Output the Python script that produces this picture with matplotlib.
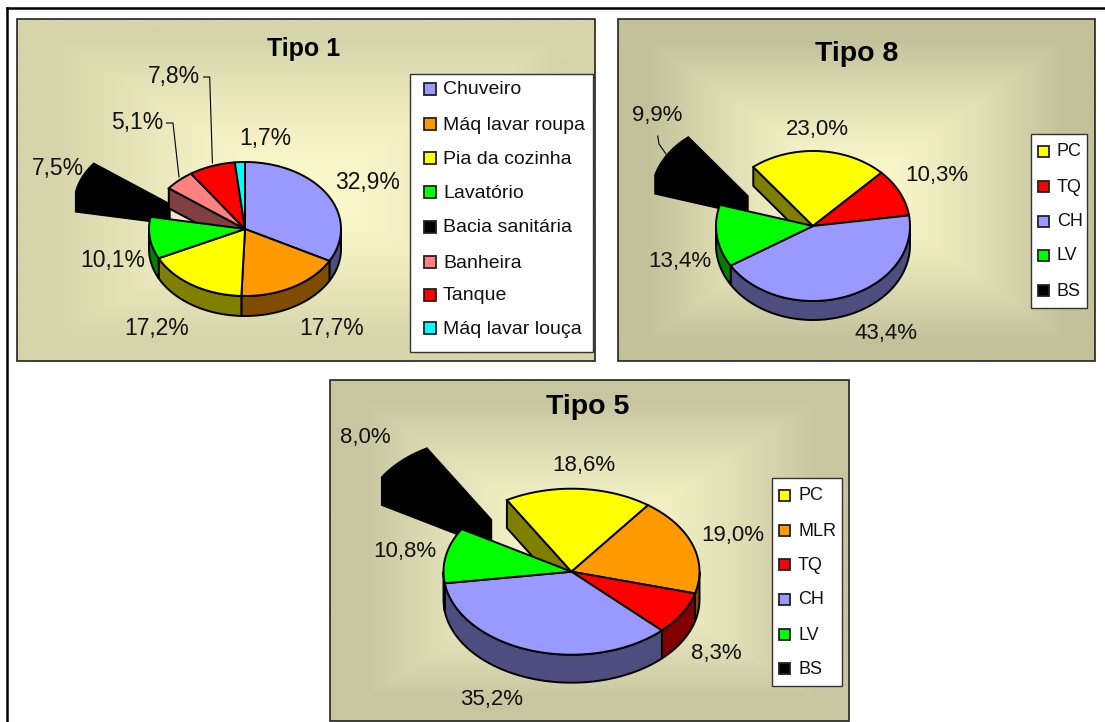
"""
    Three exploded 3D style pies, water use per type of home
"""
import numpy as np
import matplotlib
matplotlib.use("Agg")
import matplotlib.pyplot as plt
from matplotlib.patches import Polygon, Rectangle

plt.rcParams["font.family"] = ["Liberation Sans", "DejaVu Sans"]

### data
tipo1_names = ["Chuveiro", "Máq lavar roupa", "Pia da cozinha", "Lavatório",
               "Bacia sanitária", "Banheira", "Tanque", "Máq lavar louça"]
tipo1_values = [32.9, 17.7, 17.2, 10.1, 7.5, 5.1, 7.8, 1.7]

tipo8_names = ["PC", "TQ", "CH", "LV", "BS"]
tipo8_values = [23.0, 10.3, 43.4, 13.4, 9.9]

tipo5_names = ["PC", "MLR", "TQ", "CH", "LV", "BS"]
tipo5_values = [18.6, 19.0, 8.3, 35.2, 10.8, 8.0]

### (top colour, wall colour) for each fixture
COLORS = {
    "Chuveiro": ("#9999FF", "#4D4D80"), "CH": ("#9999FF", "#4D4D80"),
    "Máq lavar roupa": ("#FF9900", "#804D00"), "MLR": ("#FF9900", "#804D00"),
    "Pia da cozinha": ("#FFFF00", "#808000"), "PC": ("#FFFF00", "#808000"),
    "Lavatório": ("#00FF00", "#008000"), "LV": ("#00FF00", "#008000"),
    "Bacia sanitária": ("#000000", "#000000"), "BS": ("#000000", "#000000"),
    "Banheira": ("#FF8080", "#804040"),
    "Tanque": ("#FF0000", "#800000"), "TQ": ("#FF0000", "#800000"),
    "Máq lavar louça": ("#00FFFF", "#008080"),
}
EXPLODED = ("Bacia sanitária", "BS")


def rim(cx, cy, rx, ry, a0, a1, drop=0):
    # angles are degrees clockwise from 12 o'clock, y axis points down
    n = max(int(abs(a1 - a0) / 2), 2)
    ang = np.radians(np.linspace(a0, a1, n))
    return np.column_stack([cx + rx * np.sin(ang), cy - ry * np.cos(ang) + drop])


def background(ax, box, center, edge):
    x0, y0, x1, y1 = box
    xx, yy = np.meshgrid(np.linspace(-1, 1, 260), np.linspace(-1, 1, 180))
    t = np.clip(np.maximum(np.abs(xx), np.abs(yy)) ** 1.4 * 1.2, 0, 1)[..., None]
    img = (1 - t) * np.array(center) + t * np.array(edge)
    ax.imshow(img / 255, extent=(x0, x1, y1, y0), aspect="auto", zorder=1,
              interpolation="bilinear")
    ax.add_patch(Rectangle((x0, y0), x1 - x0, y1 - y0, fill=False, ec="#222222", lw=1.2, zorder=2))


def pie3d(ax, names, values, start, cx, cy, rx, ry, depth, offset):
    edges = start + np.concatenate([[0], np.cumsum(values)]) * 360 / sum(values)
    tops = []
    for i, name in enumerate(names):
        top, wall = COLORS[name]
        a0, a1 = edges[i], edges[i + 1]
        if name in EXPLODED:
            # the pulled out slice is all black so top and wall are one shape
            ox, oy = cx + offset[0], cy + offset[1]
            arc = rim(ox, oy, rx, ry, a0, a1)
            pts = [[ox, oy + depth], [arc[0][0], arc[0][1] + depth]] + arc.tolist() + [[ox, oy]]
            ax.add_patch(Polygon(pts, fc=top, ec="black", lw=1, zorder=3))
            # cut face left open on the next slice
            nxt = COLORS[names[(i + 1) % len(names)]][1]
            p = rim(cx, cy, rx, ry, a1, a1 + 1)[0]
            cut = [p, [p[0], p[1] + depth], [cx, cy + depth], [cx, cy]]
            ax.add_patch(Polygon(cut, fc=nxt, ec="black", lw=1.4, zorder=4))
            continue
        # outer wall, front half only
        lo, hi = max(a0 % 360, 90), min(a0 % 360 + (a1 - a0), 270)
        if hi > lo:
            upper = rim(cx, cy, rx, ry, lo, hi)
            lower = rim(cx, cy, rx, ry, hi, lo, depth)
            ax.add_patch(Polygon(np.vstack([upper, lower]), fc=wall, ec="black", lw=1.4, zorder=5))
        tops.append((top, rim(cx, cy, rx, ry, a0, a1)))
    for top, arc in tops:
        ax.add_patch(Polygon(np.vstack([[cx, cy], arc]), fc=top, ec="black", lw=1.4, zorder=6))


def legend(ax, box, names, marker_x, text_x, ys, size, msize):
    x0, y0, x1, y1 = box
    ax.add_patch(Rectangle((x0, y0), x1 - x0, y1 - y0, fc="white", ec="#333333", lw=1, zorder=7))
    for name, y in zip(names, ys):
        ax.add_patch(Rectangle((marker_x, y - msize / 2), msize, msize, fc=COLORS[name][0],
                               ec="#222222", lw=1.3, zorder=8))
        ax.text(text_x, y + 1, name, fontsize=size, va="center", ha="left", color="#111111", zorder=8)


def labels(ax, values, spots, size):
    for v, (x, y) in zip(values, spots):
        ax.text(x, y + 1, f"{v:.1f}%".replace(".", ","), fontsize=size, ha="center", va="center",
                color="#111111", zorder=9)


fig = plt.figure(figsize=(11.05, 7.22), dpi=100)
ax = fig.add_axes([0, 0, 1, 1])
ax.axis("off")

# page frame, open on the right and at the bottom
ax.plot([7, 7], [722, 8], color="black", lw=1.8, zorder=1)
ax.plot([7, 1105], [8, 8], color="black", lw=1.8, zorder=1)

# Tipo 1
background(ax, (17, 19, 595, 361), (252, 250, 205), (214, 212, 170))
pie3d(ax, tipo1_names, tipo1_values, 0, 245, 229, 96, 67, 20, (-75, -25))
ax.text(304, 49, "Tipo 1", fontsize=18, fontweight="bold", ha="center", va="center", zorder=9)
labels(ax, tipo1_values,
       [(368, 181), (332, 328), (157, 328), (113, 259), (58, 168), (137, 122), (174, 76), (265, 138)], 16.5)
ax.plot([203.6, 209.7, 212.4], [77, 77, 163], color="black", lw=0.8, zorder=9)
ax.plot([166.5, 173, 179], [123, 123, 177], color="black", lw=0.8, zorder=9)
legend(ax, (410, 74, 593, 352), tipo1_names, 424, 443,
       [89, 124, 158, 192, 227, 262, 295, 328], 14, 12)

# Tipo 8
background(ax, (618, 19, 1095, 361), (252, 250, 205), (195, 193, 154))
pie3d(ax, tipo8_names, tipo8_values, -38, 813, 226, 97, 75, 19, (-65, -30))
ax.text(857, 54, "Tipo 8", fontsize=20.5, fontweight="bold", ha="center", va="center", zorder=9)
labels(ax, tipo8_values, [(817, 128), (937, 175), (886, 333), (680, 260), (657, 115)], 16)
ax.plot([657.7, 659, 666], [136, 144, 154], color="black", lw=0.8, zorder=9)
legend(ax, (1031, 134, 1087, 308), tipo8_names, 1038, 1057, [151, 186, 221, 255, 290], 13, 11)

# Tipo 5
background(ax, (330, 380, 849, 721), (252, 250, 205), (200, 198, 160))
pie3d(ax, tipo5_names, tipo5_values, -30.3, 571.5, 571.7, 128, 83, 28, (-80, -52))
ax.text(588, 407, "Tipo 5", fontsize=20.5, fontweight="bold", ha="center", va="center", zorder=9)
labels(ax, tipo5_values, [(584, 464), (733, 535), (716, 652), (492, 698), (405, 550), (365, 436)], 16)
legend(ax, (772, 478, 842, 686), tipo5_names, 779, 798, [495, 530, 564, 599, 634, 668], 13, 11)

ax.set_xlim(0, 1105)
ax.set_ylim(722, 0)
fig.savefig("out.png", dpi=100)
